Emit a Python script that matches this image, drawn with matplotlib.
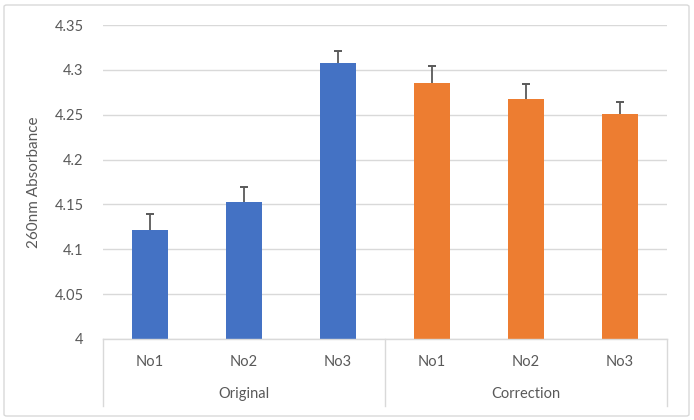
import matplotlib.pyplot as plt
import numpy as np
from matplotlib.patches import FancyBboxPatch

plt.rcParams['font.family'] = ['Lato', 'DejaVu Sans']

groups = ['Original', 'Correction']
samples = ['No1', 'No2', 'No3']
original = [4.121, 4.153, 4.308]
original_err = [0.018, 0.016, 0.013]
correction = [4.285, 4.267, 4.251]
correction_err = [0.019, 0.017, 0.013]

blue = '#4472C4'
orange = '#ED7D31'
grey_txt = '#595959'
grid_col = '#D9D9D9'

W, H = 694, 420
fig = plt.figure(figsize=(W / 100, H / 100), dpi=100)

# outer chart border
fig.patches.append(FancyBboxPatch((4 / W, 4 / H), 685 / W, 411 / H,
                                  boxstyle='round,pad=0,rounding_size=0.004',
                                  transform=fig.transFigure, fill=False,
                                  edgecolor='#D9D9D9', linewidth=1))

left, right, bottom, top = 103, 667, 339, 25
ax = fig.add_axes([left / W, 1 - bottom / H, (right - left) / W, (bottom - top) / H])

values = np.array(original + correction)
errs = np.array(original_err + correction_err)
colors = [blue] * 3 + [orange] * 3
x = np.arange(len(values))
ax.bar(x, values - 4.0, bottom=4.0, width=0.39, color=colors, zorder=2)
# plus-only error bars: stem + cap at the top only
ax.errorbar(x, values, yerr=[np.zeros(len(errs)), errs], fmt='none',
            ecolor='#595959', elinewidth=1.3, capsize=0, zorder=3)
ax.plot(x, values + errs, linestyle='none', marker='_', markersize=5.5,
        markeredgewidth=1.4, color='#595959', zorder=3)

ax.set_xlim(-0.5, len(values) - 0.5)
ax.set_ylim(4.0, 4.35)
ax.set_yticks(np.arange(4.0, 4.351, 0.05))
ax.set_yticklabels(['4', '4.05', '4.1', '4.15', '4.2', '4.25', '4.3', '4.35'])
ax.yaxis.grid(True, color=grid_col, linewidth=1, zorder=0)
ax.set_axisbelow(True)
for s in ax.spines.values():
    s.set_visible(False)
ax.tick_params(axis='y', length=0, pad=14, labelsize=10.5, labelcolor=grey_txt)
ax.set_xticks([])
ax.set_ylabel('260nm Absorbance', fontsize=11, color=grey_txt, labelpad=10)

# category axis with group dividers
line_kw = dict(color=grid_col, linewidth=1, transform=fig.transFigure, clip_on=False)
fig.add_artist(plt.Line2D([left / W, right / W], [1 - bottom / H] * 2, **line_kw))
for xd in [left, 385, right]:
    fig.add_artist(plt.Line2D([xd / W] * 2, [1 - bottom / H, 1 - 406 / H], **line_kw))

trans = ax.get_xaxis_transform()
for i in range(len(values)):
    ax.text(x[i], (bottom - 362) / (bottom - top), samples[i % 3], transform=trans,
            ha='center', va='center', fontsize=10.5, color=grey_txt)
for g, name in enumerate(groups):
    ax.text(g * 3 + 1, (bottom - 394) / (bottom - top), name, transform=trans,
            ha='center', va='center', fontsize=10.5, color=grey_txt)

fig.savefig('out.png', dpi=100)
